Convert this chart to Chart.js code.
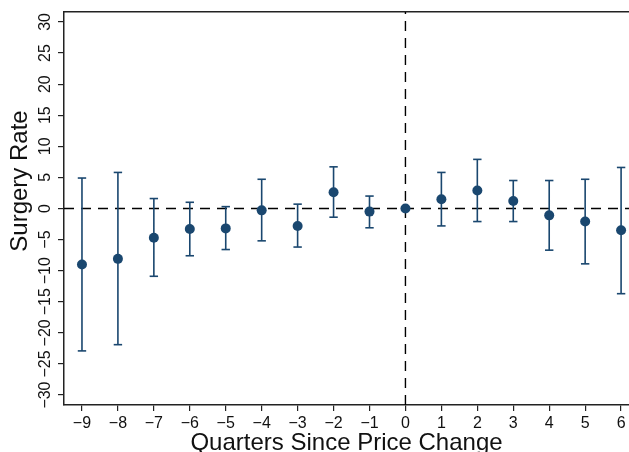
<!DOCTYPE html>
<html>
<head>
<meta charset="utf-8">
<script src="https://cdn.jsdelivr.net/npm/chart.js@4.4.0/dist/chart.umd.min.js"></script>
<style>
html, body { margin: 0; padding: 0; background: #fff; }
</style>
</head>
<body>
<canvas id="eventChart" width="629" height="452"></canvas>
<script>
/* event study data */
const quarters  = [-9, -8, -7, -6, -5, -4, -3, -2, -1, 0, 1, 2, 3, 4, 5, 6];
const estimates = [-9.0, -8.1, -4.7, -3.3, -3.2, -0.3, -2.8, 2.6, -0.5, 0, 1.5, 2.9, 1.2, -1.1, -2.1, -3.5];
const upperCI   = [4.9, 5.8, 1.6, 1.0, 0.3, 4.7, 0.7, 6.7, 2.0, null, 5.8, 7.9, 4.5, 4.5, 4.7, 6.6];
const lowerCI   = [-22.9, -21.9, -10.9, -7.6, -6.6, -5.2, -6.2, -1.4, -3.1, null, -2.8, -2.1, -2.1, -6.7, -8.9, -13.7];
const xTicks = [-9, -8, -7, -6, -5, -4, -3, -2, -1, 0, 1, 2, 3, 4, 5, 6];
const yTicks = [-30, -25, -20, -15, -10, -5, 0, 5, 10, 15, 20, 25, 30];

const X_MIN = -9.5, X_MAX = 6.22;
const Y_MIN = -31.6, Y_MAX = 31.6;
const NAVY = '#1a476f';
const AXIS = '#222';
const FONT = "'Liberation Sans', Arial, Helvetica, sans-serif";

Chart.defaults.font.family = FONT;
Chart.defaults.color = '#111';

const points = quarters.map((q, i) => ({ x: q, y: estimates[i] }));

// vertical whiskers: lower -> upper, broken by a null
const whiskers = [];
const caps = [];
quarters.forEach((q, i) => {
  if (upperCI[i] === null) return;
  whiskers.push({ x: q, y: lowerCI[i] }, { x: q, y: upperCI[i] }, { x: q, y: null });
  caps.push({ x: q, y: lowerCI[i] }, { x: q, y: upperCI[i] });
});

const minusSign = v => String(v).replace('-', '\u2212');

// y title sits a bit above the middle of the plot, like the original
const yTitlePlugin = {
  id: 'yTitle',
  afterDraw(chart) {
    const y = chart.scales.y;
    const c = chart.ctx;
    c.save();
    c.translate(20, y.top + (y.bottom - y.top) * 0.43);
    c.rotate(-Math.PI / 2);
    c.font = '24px ' + FONT;
    c.fillStyle = '#111';
    c.textAlign = 'center';
    c.textBaseline = 'middle';
    c.fillText('Surgery Rate', 0, 0);
    c.restore();
  }
};

const ctx = document.getElementById('eventChart');

new Chart(ctx, {
  type: 'scatter',
  data: {
    datasets: [
      {
        label: 'Estimate',
        data: points,
        pointRadius: 5,
        pointBackgroundColor: NAVY,
        pointBorderWidth: 0,
        showLine: false
      },
      {
        label: 'Caps',
        data: caps,
        pointStyle: 'line',
        pointRadius: 4.2,
        pointBorderColor: NAVY,
        pointBorderWidth: 1.6,
        showLine: false
      },
      {
        label: 'CI',
        data: whiskers,
        showLine: true,
        spanGaps: false,
        borderColor: NAVY,
        borderWidth: 1.6,
        pointRadius: 0
      },
      {
        label: 'Zero',
        data: [{ x: X_MIN, y: 0 }, { x: X_MAX, y: 0 }],
        showLine: true,
        borderColor: '#000',
        borderWidth: 1.4,
        borderDash: [10, 7],
        pointRadius: 0
      },
      {
        label: 'Change',
        data: [{ x: 0, y: Y_MIN }, { x: 0, y: Y_MAX }],
        showLine: true,
        borderColor: '#000',
        borderWidth: 1.4,
        borderDash: [10, 7],
        pointRadius: 0
      }
    ]
  },
  options: {
    responsive: false,
    animation: false,
    devicePixelRatio: 1,
    layout: { padding: 0, autoPadding: false },
    plugins: {
      legend: { display: false },
      tooltip: { enabled: false }
    },
    scales: {
      x: {
        type: 'linear',
        position: 'bottom',
        min: X_MIN,
        max: X_MAX,
        afterBuildTicks: scale => { scale.ticks = xTicks.map(v => ({ value: v })); },
        afterFit: scale => { scale.height = 47; },
        grid: { display: true, drawOnChartArea: false, drawTicks: true, tickLength: 6, color: AXIS, lineWidth: 1.2 },
        border: { display: true, color: AXIS, width: 1.5 },
        ticks: {
          padding: 3,
          maxRotation: 0,
          font: { size: 16 },
          callback: v => minusSign(v)
        },
        title: {
          display: true,
          text: 'Quarters Since Price Change',
          font: { size: 24 },
          padding: { top: 0, bottom: -6 }
        }
      },
      xTop: {
        type: 'linear',
        position: 'top',
        min: X_MIN,
        max: X_MAX,
        afterFit: scale => { scale.height = 12; },
        grid: { display: false },
        ticks: { display: false },
        border: { display: true, color: AXIS, width: 1.5 }
      },
      y: {
        type: 'linear',
        position: 'left',
        min: Y_MIN,
        max: Y_MAX,
        afterBuildTicks: scale => { scale.ticks = yTicks.map(v => ({ value: v })); },
        afterFit: scale => { scale.width = 64; },
        grid: { display: true, drawOnChartArea: false, drawTicks: true, tickLength: 6, color: AXIS, lineWidth: 1.2 },
        border: { display: true, color: AXIS, width: 1.5 },
        ticks: {
          minRotation: 90,
          maxRotation: 90,
          crossAlign: 'center',
          padding: -1,
          font: { size: 16 },
          callback: v => minusSign(v)
        },
        title: { display: false }
      }
    }
  },
  plugins: [yTitlePlugin]
});
</script>
</body>
</html>
